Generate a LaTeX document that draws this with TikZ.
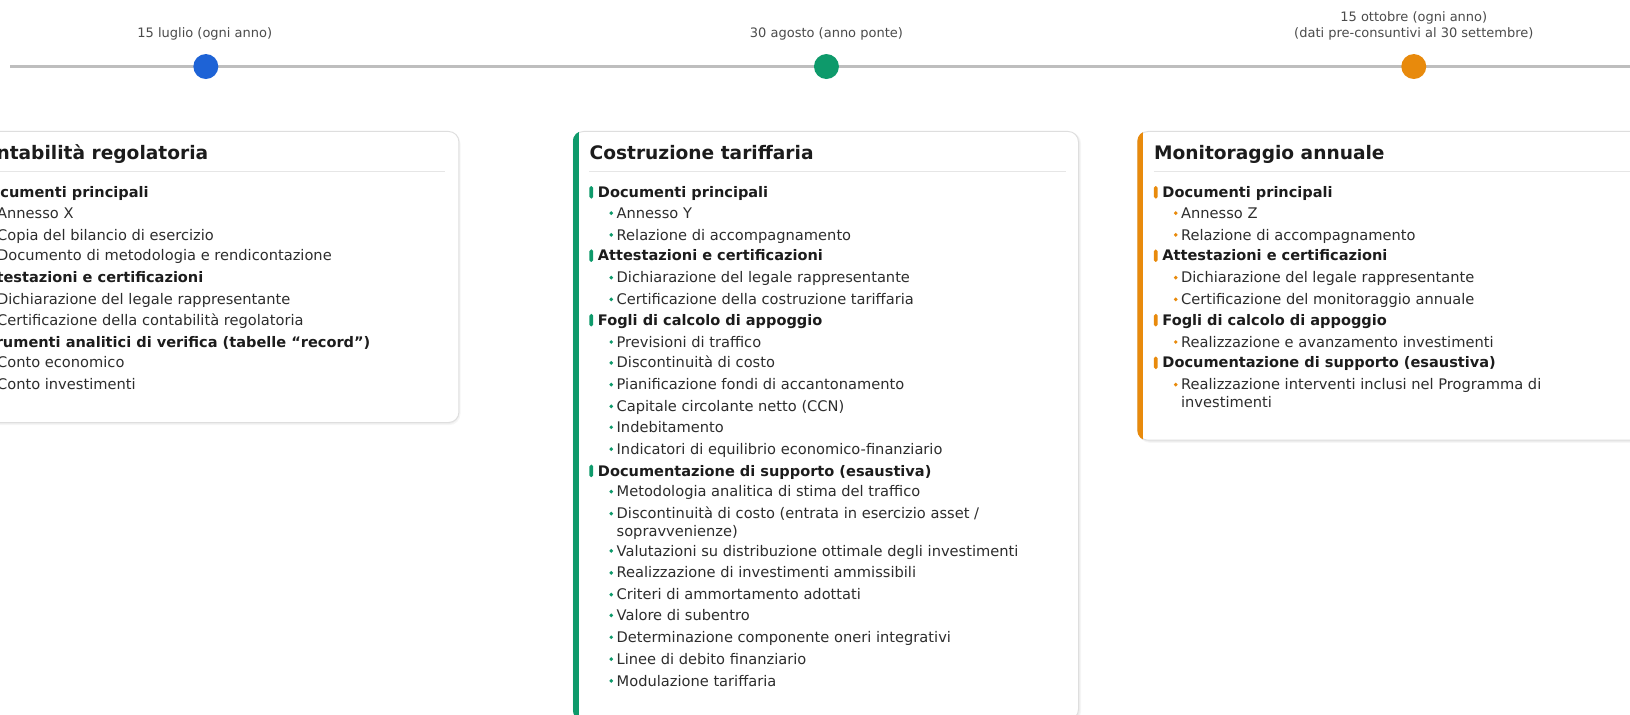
\documentclass[tikz,border=0pt]{standalone}
\usepackage{fontspec}
\setmainfont{DejaVu Sans}
\definecolor{tlblue}{RGB}{30,99,214}
\definecolor{tlgreen}{RGB}{14,154,107}
\definecolor{tlorange}{RGB}{232,138,12}
\definecolor{tlgray}{RGB}{190,190,190}
\definecolor{labelgray}{RGB}{75,75,75}
\definecolor{titlecol}{RGB}{28,28,28}
\definecolor{bodycol}{RGB}{45,45,45}
\definecolor{cardborder}{RGB}{222,222,222}
\definecolor{sepcol}{RGB}{230,230,230}
\newcommand{\hd}[5]{%
  \fill[#4, rounded corners=1.6pt] (#2+16,#3-6) rectangle (#2+19.6,#3+6);
  \node[hdtext] (#1) at (#2+24,#3+5) {#5};
}
\newcommand{\itm}[5]{%
  \fill[#4] (#2+37,#3) circle (1.9pt);
  \node[bodytext] (#1) at (#2+42,#3+5) {#5};
}
\newcommand{\contline}[4]{%
  \node[bodytext] (#1) at (#2+42,#3+5) {#4};
}
\begin{document}
\begin{tikzpicture}[x=1pt,y=-1pt,
  lbl/.style={font=\fontsize{12.5}{15}\selectfont, text=labelgray, inner sep=0pt, anchor=base},
  ttl/.style={font=\fontsize{17.9}{21}\selectfont\bfseries, text=titlecol, inner sep=0pt, anchor=base west},
  hdtext/.style={font=\fontsize{14}{17}\selectfont\bfseries, text=titlecol, inner sep=0pt, anchor=base west},
  bodytext/.style={font=\fontsize{14.08}{17}\selectfont, text=bodycol, inner sep=0pt, anchor=base west},
  card/.style={draw=cardborder, line width=0.9pt, fill=white, rounded corners=10pt, rectangle, inner sep=0pt, anchor=north west, minimum width=486pt},
  tldot/.style={circle, inner sep=0pt, minimum size=24pt},
  shadowA/.style={fill=black, opacity=0.035, rounded corners=11pt},
  sep/.style={draw=sepcol, line width=1pt},
]
\useasboundingbox (0,0) rectangle (1568,687);
\clip (0,0) rectangle (1568,687);
\fill[white] (0,0) rectangle (1568,687);

% timeline
\coordinate (tlstart) at (10,64);
\coordinate (tlend) at (1570,64);
\draw[tlgray, line width=3.6pt] (tlstart) -- (tlend);
\node[tldot, fill=tlblue] (d1) at (198,64) {};
\node[tldot, fill=tlgreen] (d2) at (795,64) {};
\node[tldot, fill=tlorange] (d3) at (1360,64) {};
\node[lbl] (l1) at (197,36.5) {15 luglio (ogni anno)};
\node[lbl] (l2) at (795,36.5) {30 agosto (anno ponte)};
\node[lbl] (l3a) at (1360,20.5) {15 ottobre (ogni anno)};
\node[lbl] (l3b) at (1360,36.5) {(dati pre-consuntivi al 30 settembre)};

% shadows
\fill[shadowA] (-44,127) rectangle (443,409);
\fill[shadowA] (-44,127) rectangle (442,408);
\fill[shadowA] (552,127) rectangle (1040,695);
\fill[shadowA] (552,127) rectangle (1039,694);
\fill[shadowA] (1095,127) rectangle (1584,426);
\fill[shadowA] (1095,127) rectangle (1583,425);

% cards
\node[card, minimum height=280pt] (cardA) at (-45,126) {};
\node[card, minimum height=566pt] (cardB) at (551,126) {};
\node[card, minimum height=297pt] (cardC) at (1094,126) {};

\begin{scope}
\clip[rounded corners=10pt] (cardA.north west) rectangle (cardA.south east);
\fill[tlblue] (cardA.north west) rectangle ([xshift=5.5pt]cardA.south west);
\end{scope}
\begin{scope}
\clip[rounded corners=10pt] (cardB.north west) rectangle (cardB.south east);
\fill[tlgreen] (cardB.north west) rectangle ([xshift=5.5pt]cardB.south west);
\end{scope}
\begin{scope}
\clip[rounded corners=10pt] (cardC.north west) rectangle (cardC.south east);
\fill[tlorange] (cardC.north west) rectangle ([xshift=5.5pt]cardC.south west);
\end{scope}

% ---- card A
\node[ttl] (tA) at (-29,153.5) {Contabilità regolatoria};
\draw[sep] (-29,165) -- (428,165);
\hd{a1}{-45}{185}{tlblue}{Documenti principali}
\itm{a11}{-45}{205}{tlblue}{Annesso X}
\itm{a12}{-45}{226}{tlblue}{Copia del bilancio di esercizio}
\itm{a13}{-45}{246}{tlblue}{Documento di metodologia e rendicontazione}
\hd{a2}{-45}{267}{tlblue}{Attestazioni e certificazioni}
\itm{a21}{-45}{288}{tlblue}{Dichiarazione del legale rappresentante}
\itm{a22}{-45}{308}{tlblue}{Certificazione della contabilità regolatoria}
\hd{a3}{-45}{329}{tlblue}{Strumenti analitici di verifica (tabelle “record”)}
\itm{a31}{-45}{349}{tlblue}{Conto economico}
\itm{a32}{-45}{370}{tlblue}{Conto investimenti}

% ---- card B
\node[ttl] (tB) at (567,153.5) {Costruzione tariffaria};
\draw[sep] (567,165) -- (1025,165);
\hd{b1}{551}{185}{tlgreen}{Documenti principali}
\itm{b11}{551}{205}{tlgreen}{Annesso Y}
\itm{b12}{551}{226}{tlgreen}{Relazione di accompagnamento}
\hd{b2}{551}{246}{tlgreen}{Attestazioni e certificazioni}
\itm{b21}{551}{267}{tlgreen}{Dichiarazione del legale rappresentante}
\itm{b22}{551}{288}{tlgreen}{Certificazione della costruzione tariffaria}
\hd{b3}{551}{308}{tlgreen}{Fogli di calcolo di appoggio}
\itm{b31}{551}{329}{tlgreen}{Previsioni di traffico}
\itm{b32}{551}{349}{tlgreen}{Discontinuità di costo}
\itm{b33}{551}{370}{tlgreen}{Pianificazione fondi di accantonamento}
\itm{b34}{551}{391}{tlgreen}{Capitale circolante netto (CCN)}
\itm{b35}{551}{411}{tlgreen}{Indebitamento}
\itm{b36}{551}{432}{tlgreen}{Indicatori di equilibrio economico-finanziario}
\hd{b4}{551}{453}{tlgreen}{Documentazione di supporto (esaustiva)}
\itm{b41}{551}{473}{tlgreen}{Metodologia analitica di stima del traffico}
\itm{b42}{551}{494}{tlgreen}{Discontinuità di costo (entrata in esercizio asset /}
\contline{b42b}{551}{511}{sopravvenienze)}
\itm{b43}{551}{530}{tlgreen}{Valutazioni su distribuzione ottimale degli investimenti}
\itm{b44}{551}{551}{tlgreen}{Realizzazione di investimenti ammissibili}
\itm{b45}{551}{572}{tlgreen}{Criteri di ammortamento adottati}
\itm{b46}{551}{592}{tlgreen}{Valore di subentro}
\itm{b47}{551}{613}{tlgreen}{Determinazione componente oneri integrativi}
\itm{b48}{551}{634}{tlgreen}{Linee di debito finanziario}
\itm{b49}{551}{655}{tlgreen}{Modulazione tariffaria}

% ---- card C
\node[ttl] (tC) at (1110,153.5) {Monitoraggio annuale};
\draw[sep] (1110,165) -- (1568,165);
\hd{c1}{1094}{185}{tlorange}{Documenti principali}
\itm{c11}{1094}{205}{tlorange}{Annesso Z}
\itm{c12}{1094}{226}{tlorange}{Relazione di accompagnamento}
\hd{c2}{1094}{246}{tlorange}{Attestazioni e certificazioni}
\itm{c21}{1094}{267}{tlorange}{Dichiarazione del legale rappresentante}
\itm{c22}{1094}{288}{tlorange}{Certificazione del monitoraggio annuale}
\hd{c3}{1094}{308}{tlorange}{Fogli di calcolo di appoggio}
\itm{c31}{1094}{329}{tlorange}{Realizzazione e avanzamento investimenti}
\hd{c4}{1094}{349}{tlorange}{Documentazione di supporto (esaustiva)}
\itm{c41}{1094}{370}{tlorange}{Realizzazione interventi inclusi nel Programma di}
\contline{c41b}{1094}{387}{investimenti}
\end{tikzpicture}
\end{document}
